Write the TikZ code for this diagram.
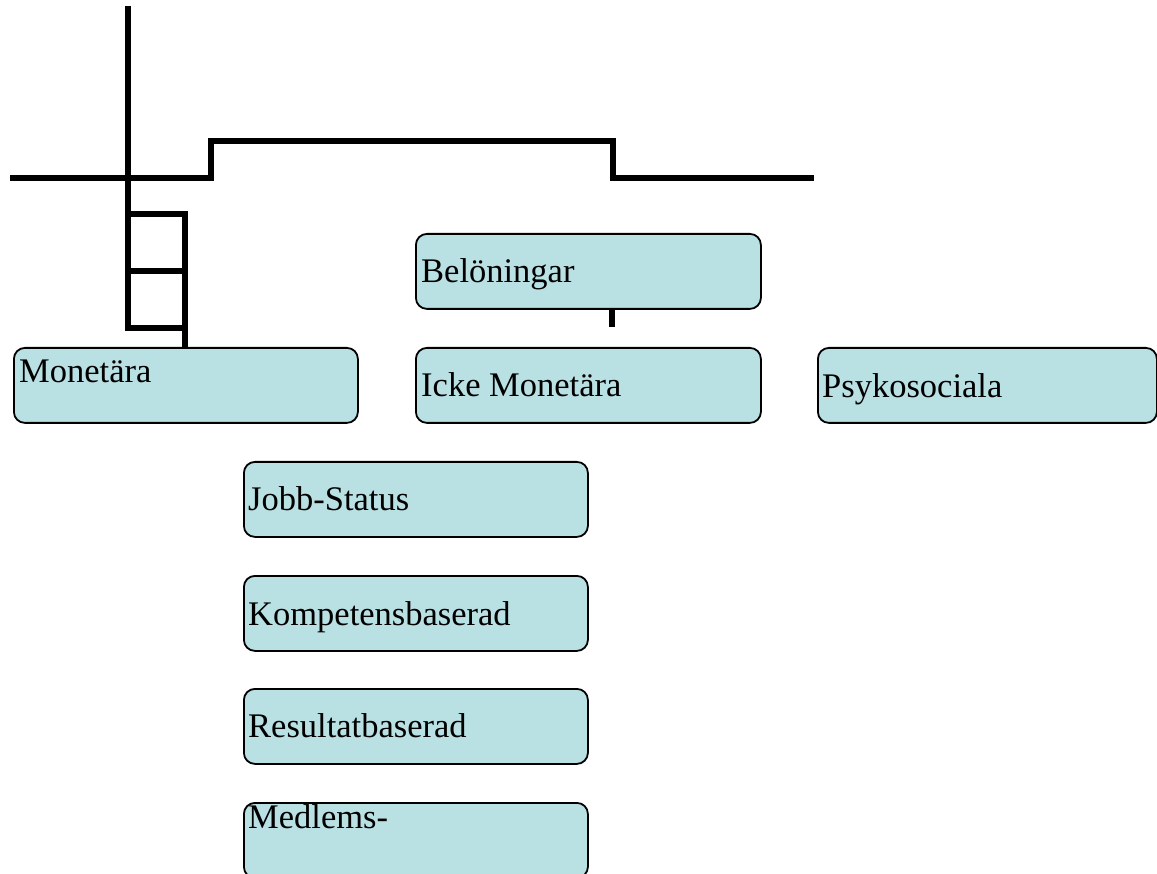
\documentclass[tikz,border=0pt]{standalone}
\usepackage{fontspec}
\setmainfont{Liberation Serif}
\definecolor{boxfill}{RGB}{185,224,227}
\begin{document}
\begin{tikzpicture}[x=1pt,y=-1pt,
  box/.style={draw=black, line width=1.8pt, fill=boxfill, rounded corners=11pt, anchor=north west, inner sep=0pt, minimum height=75pt},
  conn/.style={line width=5.5pt, draw=black, line join=miter},
  lbl/.style={anchor=base west, inner sep=0pt, font=\fontsize{34.5}{40}\selectfont}]
\useasboundingbox (0,0) rectangle (1157,874);
\clip (0,0) rectangle (1157,874);
% boxes
\node[box, minimum width=344pt] (mon) at (13,347) {};
\node[box, minimum width=345pt] (bel) at (415,233) {};
\node[box, minimum width=345pt] (ick) at (415,347) {};
\node[box, minimum width=339pt] (psy) at (817,347) {};
\node[box, minimum width=344pt] (job) at (243,461) {};
\node[box, minimum width=344pt] (kom) at (243,575) {};
\node[box, minimum width=344pt] (res) at (243,688) {};
\node[box, minimum width=344pt] (med) at (243,802) {};
% labels
\node[lbl] (tmon) at (19,383) {Monetära};
\node[lbl] (tbel) at (421,283) {Belöningar};
\node[lbl] (tick) at (421,397) {Icke Monetära};
\node[lbl] (tpsy) at (822,398) {Psykosociala};
\node[lbl] (tjob) at (248,511) {Jobb-Status};
\node[lbl] (tkom) at (248,625) {Kompetensbaserad};
\node[lbl] (tres) at (248,737) {Resultatbaserad};
\node[lbl] (tmed) at (248,828) {Medlems-};
% free line coordinates
\coordinate (vtop) at (128,6);
\coordinate (vbot) at (128,328);
\coordinate (hl) at (10,178);
\coordinate (hr) at (814,178);
\coordinate (b1) at (128,214);
\coordinate (b2) at (128,271);
\coordinate (stubend) at (612,327);
% connectors
\draw[conn] (vtop) -- (vbot) -- (185,328);
\draw[conn] (hl) -- (211,178) -- (211,141) -- (613,141) -- (613,178) -- (hr);
\draw[conn] (b1) -- (185,214) -- (185,347);
\draw[conn] (b2) -- (185,271);
\draw[conn] (612,309) -- (stubend);
\end{tikzpicture}
\end{document}
